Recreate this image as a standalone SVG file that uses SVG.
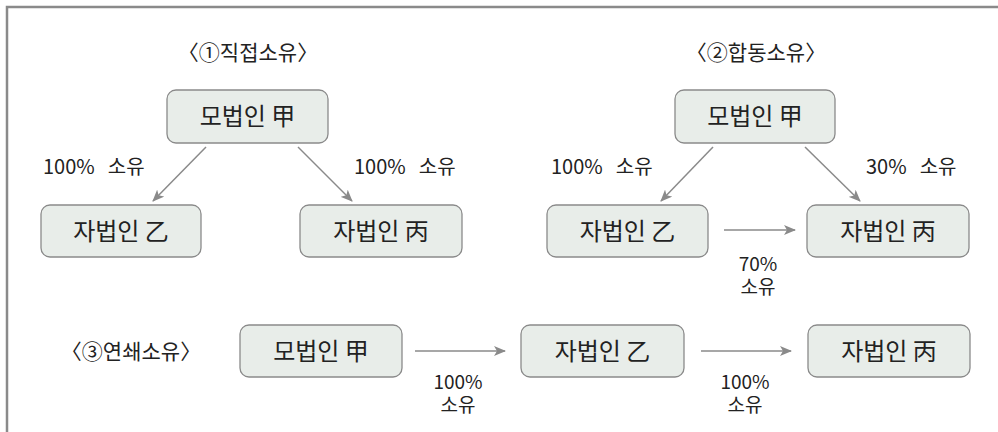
<svg xmlns="http://www.w3.org/2000/svg" width="998" height="432" viewBox="0 0 998 432">
<style>
.box{fill:#e8ede9;stroke:#8a8a8a;stroke-width:1.3}
.nt{font-family:"Noto Sans CJK KR","Noto Sans",sans-serif;font-size:24px;fill:#222;text-anchor:middle}
.lb{font-family:"Noto Sans CJK KR","Noto Sans",sans-serif;font-size:20px;fill:#222}
.lb2{font-family:"Noto Sans CJK KR","Noto Sans",sans-serif;font-size:19px;fill:#222;text-anchor:middle}
.tt{font-family:"Noto Sans CJK KR","Noto Sans",sans-serif;font-size:21px;fill:#222;text-anchor:middle}
.ln{stroke:#8a8a8a;stroke-width:1.5;fill:none;marker-end:url(#ah)}
</style>
<defs>
<marker id="ah" viewBox="0 0 12 10" refX="11" refY="5" markerWidth="12" markerHeight="10" markerUnits="userSpaceOnUse" orient="auto">
<path d="M0,0 L12,5 L0,10 L3,5 Z" fill="#8a8a8a"/>
</marker>
</defs>
<rect x="0" y="0" width="998" height="432" fill="#fff"/>
<rect x="7" y="7" width="1000" height="440" fill="none" stroke="#8a8a8a" stroke-width="2.5"/>
<g id="titles">
<text class="tt" x="248" y="60">〈①직접소유〉</text>
<text class="tt" x="756" y="60">〈②합동소유〉</text>
<text class="tt" x="131" y="359">〈③연쇄소유〉</text>
</g>
<g id="n1a"><rect class="box" x="167" y="90" width="161" height="53" rx="9"/><text class="nt" x="247.5" y="125">모법인 甲</text></g>
<g id="n1b"><rect class="box" x="41" y="205" width="160" height="52" rx="9"/><text class="nt" x="121" y="240">자법인 乙</text></g>
<g id="n1c"><rect class="box" x="300" y="205" width="162" height="52" rx="9"/><text class="nt" x="381" y="240">자법인 丙</text></g>
<g id="n2a"><rect class="box" x="675" y="90" width="160" height="53" rx="9"/><text class="nt" x="755" y="125">모법인 甲</text></g>
<g id="n2b"><rect class="box" x="547" y="205" width="161" height="52" rx="9"/><text class="nt" x="627.5" y="240">자법인 乙</text></g>
<g id="n2c"><rect class="box" x="807" y="205" width="162" height="52" rx="9"/><text class="nt" x="888" y="240">자법인 丙</text></g>
<g id="n3a"><rect class="box" x="240" y="325" width="162" height="52" rx="9"/><text class="nt" x="321" y="360">모법인 甲</text></g>
<g id="n3b"><rect class="box" x="521" y="325" width="163" height="52" rx="9"/><text class="nt" x="602.5" y="360">자법인 乙</text></g>
<g id="n3c"><rect class="box" x="808" y="325" width="162" height="52" rx="9"/><text class="nt" x="889" y="360">자법인 丙</text></g>
<g id="connectors">
<line class="ln" x1="206" y1="147" x2="153" y2="201"/>
<line class="ln" x1="298" y1="147" x2="352" y2="201"/>
<line class="ln" x1="713" y1="147" x2="661" y2="201"/>
<line class="ln" x1="805" y1="147" x2="860" y2="201"/>
<line class="ln" x1="724" y1="230" x2="795" y2="230"/>
<line class="ln" x1="415" y1="351" x2="505" y2="351"/>
<line class="ln" x1="701" y1="351" x2="791" y2="351"/>
</g>
<g id="labels">
<text class="lb" x="43" y="174">100%<tspan dx="13">소유</tspan></text>
<text class="lb" x="354" y="174">100%<tspan dx="13">소유</tspan></text>
<text class="lb" x="551" y="174">100%<tspan dx="13">소유</tspan></text>
<text class="lb" x="866" y="174">30%<tspan dx="13">소유</tspan></text>
<text class="lb2"><tspan x="758" y="271">70%</tspan><tspan x="758" y="294">소유</tspan></text>
<text class="lb2"><tspan x="458" y="389">100%</tspan><tspan x="458" y="412">소유</tspan></text>
<text class="lb2"><tspan x="745" y="389">100%</tspan><tspan x="745" y="412">소유</tspan></text>
</g>
</svg>
